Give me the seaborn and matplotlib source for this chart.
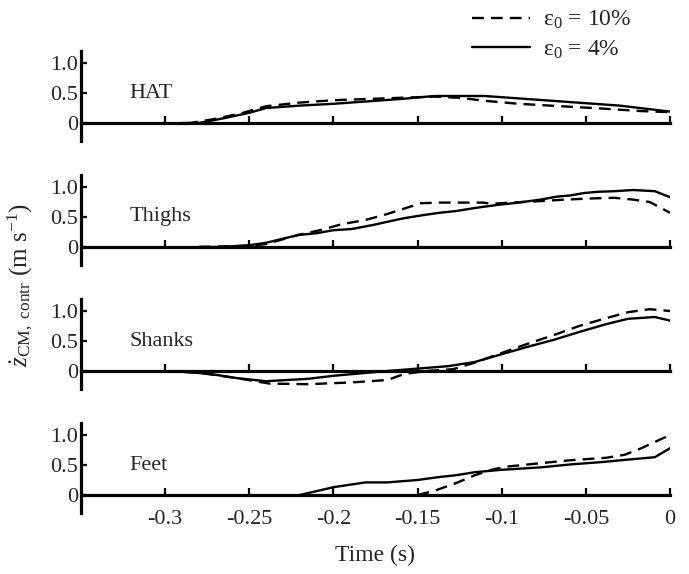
import numpy as np
import pandas as pd
import matplotlib
matplotlib.use("Agg")
import matplotlib.pyplot as plt
import seaborn as sns
from matplotlib.lines import Line2D

sns.set_style("white")
plt.rcParams["font.family"] = ["Liberation Serif", "DejaVu Serif"]
plt.rcParams["mathtext.fontset"] = "custom"
plt.rcParams["mathtext.rm"] = "Liberation Serif"
plt.rcParams["mathtext.it"] = "Liberation Serif:italic"
plt.rcParams["mathtext.bf"] = "Liberation Serif:bold"

# ---------------- data ----------------
segments = ["HAT", "Thighs", "Shanks", "Feet"]
series_labels = ["ε$_{0}$ = 10%", "ε$_{0}$ = 4%"]

hat_t10 = [-0.31, -0.285, -0.27, -0.255, -0.24, -0.22, -0.2, -0.18, -0.16, -0.14, -0.125,
           -0.11, -0.09, -0.065, -0.04, -0.018, 0.0]
hat_v10 = [-0.01, 0.0, 0.07, 0.16, 0.28, 0.34, 0.38, 0.40, 0.42, 0.44, 0.42,
           0.37, 0.32, 0.28, 0.24, 0.20, 0.18]
hat_t4 = [-0.29, -0.28, -0.265, -0.25, -0.24, -0.22, -0.2, -0.18, -0.16, -0.14, -0.11,
          -0.085, -0.06, -0.03, 0.0]
hat_v4 = [0.0, 0.0, 0.08, 0.17, 0.25, 0.29, 0.32, 0.36, 0.40, 0.45, 0.45,
          0.40, 0.35, 0.29, 0.19]

thi_t10 = [-0.28, -0.25, -0.24, -0.221, -0.208, -0.195, -0.181, -0.168, -0.158, -0.148,
           -0.137, -0.111, -0.106, -0.095, -0.08, -0.062, -0.046, -0.033, -0.022, -0.012, 0.0]
thi_v10 = [0.0, 0.02, 0.05, 0.20, 0.28, 0.38, 0.45, 0.55, 0.64, 0.73,
           0.74, 0.74, 0.72, 0.74, 0.76, 0.79, 0.81, 0.82, 0.79, 0.75, 0.57]
thi_t4 = [-0.28, -0.267, -0.25, -0.24, -0.221, -0.21, -0.2, -0.189, -0.176, -0.168, -0.158,
          -0.147, -0.137, -0.127, -0.116, -0.103, -0.09, -0.077, -0.067, -0.059, -0.051,
          -0.043, -0.033, -0.022, -0.009, 0.0]
thi_v4 = [0.0, 0.0, 0.03, 0.07, 0.20, 0.23, 0.28, 0.30, 0.37, 0.42, 0.48,
          0.53, 0.57, 0.60, 0.65, 0.70, 0.74, 0.79, 0.84, 0.86, 0.90,
          0.92, 0.93, 0.95, 0.93, 0.83]

sha_t10 = [-0.3, -0.28, -0.257, -0.238, -0.215, -0.189, -0.168, -0.158, -0.145, -0.129,
           -0.116, -0.1, -0.085, -0.069, -0.054, -0.038, -0.025, -0.012, 0.0]
sha_v10 = [0.0, -0.03, -0.12, -0.21, -0.22, -0.19, -0.15, -0.05, 0.0, 0.03,
           0.14, 0.30, 0.45, 0.60, 0.75, 0.88, 0.98, 1.03, 1.0]
sha_t4 = [-0.294, -0.273, -0.257, -0.24, -0.215, -0.2, -0.168, -0.15, -0.132, -0.116,
          -0.1, -0.085, -0.069, -0.054, -0.038, -0.025, -0.009, 0.0]
sha_v4 = [0.0, -0.05, -0.12, -0.17, -0.13, -0.08, 0.0, 0.04, 0.08, 0.15,
          0.28, 0.40, 0.52, 0.65, 0.78, 0.87, 0.90, 0.84]

feet_t10 = [-0.15, -0.14, -0.127, -0.116, -0.106, -0.098, -0.077, -0.059, -0.038, -0.027,
            -0.017, 0.0]
feet_v10 = [0.0, 0.07, 0.20, 0.33, 0.42, 0.47, 0.53, 0.58, 0.62, 0.67,
            0.78, 1.0]
feet_t4 = [-0.22, -0.2, -0.181, -0.168, -0.15, -0.137, -0.127, -0.116, -0.1, -0.077,
           -0.059, -0.04, -0.025, -0.009, 0.0]
feet_v4 = [0.0, 0.13, 0.21, 0.21, 0.25, 0.30, 0.33, 0.38, 0.42, 0.46,
           0.51, 0.55, 0.59, 0.63, 0.78]

panel_data = [
    ((hat_t10, hat_v10), (hat_t4, hat_v4)),
    ((thi_t10, thi_v10), (thi_t4, thi_v4)),
    ((sha_t10, sha_v10), (sha_t4, sha_v4)),
    ((feet_t10, feet_v10), (feet_t4, feet_v4)),
]

xticks = [-0.3, -0.25, -0.2, -0.15, -0.1, -0.05, 0]
xticklabels = ["-0.3", "-0.25", "-0.2", "-0.15", "-0.1", "-0.05", "0"]
yticks = [0, 0.5, 1.0]
yticklabels = ["0", "0.5", "1.0"]

# ---------------- figure ----------------
W, H = 689, 574
fig = plt.figure(figsize=(W / 100, H / 100), dpi=100)

left_px, right_px = 81, 670
bottoms_px = [141, 265, 389, 513]
height_px = 90

DASH = (5, 3)
LW = 1.7
AX_LW = 2.3
TICK_FS = 16

for i, (seg, ((t10, v10), (t4, v4))) in enumerate(zip(segments, panel_data)):
    ax = fig.add_axes([left_px / W, 1 - bottoms_px[i] / H,
                       (right_px - left_px) / W, height_px / H])
    d10 = pd.DataFrame({"t": t10, "v": v10})
    d4 = pd.DataFrame({"t": t4, "v": v4})
    sns.lineplot(data=d10, x="t", y="v", ax=ax, color="black", lw=LW,
                 estimator=None, sort=False)
    ax.lines[-1].set_dashes(DASH)
    sns.lineplot(data=d4, x="t", y="v", ax=ax, color="black", lw=LW,
                 estimator=None, sort=False)

    ax.set_xlim(-0.35, 0)
    ax.set_ylim(-0.3, 1.2)
    ax.set_xlabel("")
    ax.set_ylabel("")
    ax.set_facecolor("none")
    for s in ["top", "right"]:
        ax.spines[s].set_visible(False)
    ax.spines["bottom"].set_position(("data", 0))
    ax.spines["bottom"].set_linewidth(AX_LW)
    ax.spines["left"].set_linewidth(AX_LW)
    ax.spines["bottom"].set_color("black")
    ax.spines["left"].set_color("black")
    ax.spines["bottom"].set_zorder(1)

    ax.set_xticks(xticks)
    ax.set_yticks(yticks)
    ax.set_yticklabels(yticklabels)
    ax.tick_params(axis="x", direction="in", length=5, width=1.6, color="black",
                   pad=11, labelsize=TICK_FS, bottom=True)
    ax.tick_params(axis="y", direction="in", length=4, width=1.6, color="black",
                   pad=2, labelsize=TICK_FS, left=True)
    if i == 3:
        ax.set_xticklabels(xticklabels)
    else:
        ax.set_xticklabels([])
    ax.text(-0.321, 0.5, seg, fontsize=16, ha="left", va="center")

fig.text(20 / W, 0.503, r"$\dot{z}_{\mathrm{CM,\ contr}}$ (m s$^{-1}$)",
         rotation=90, ha="center", va="center", fontsize=18)
fig.text(375 / W, 1 - 555 / H, "Time (s)", ha="center", va="center", fontsize=17)

handles = [Line2D([], [], color="black", lw=LW, dashes=DASH),
           Line2D([], [], color="black", lw=LW)]
fig.legend(handles, series_labels, loc="upper left",
           bbox_to_anchor=(472 / W, 1 - 9 / H), frameon=False, fontsize=17,
           handlelength=2.45, handletextpad=0.55, labelspacing=0.3,
           borderaxespad=0, borderpad=0)

fig.savefig("out.png", dpi=100)
